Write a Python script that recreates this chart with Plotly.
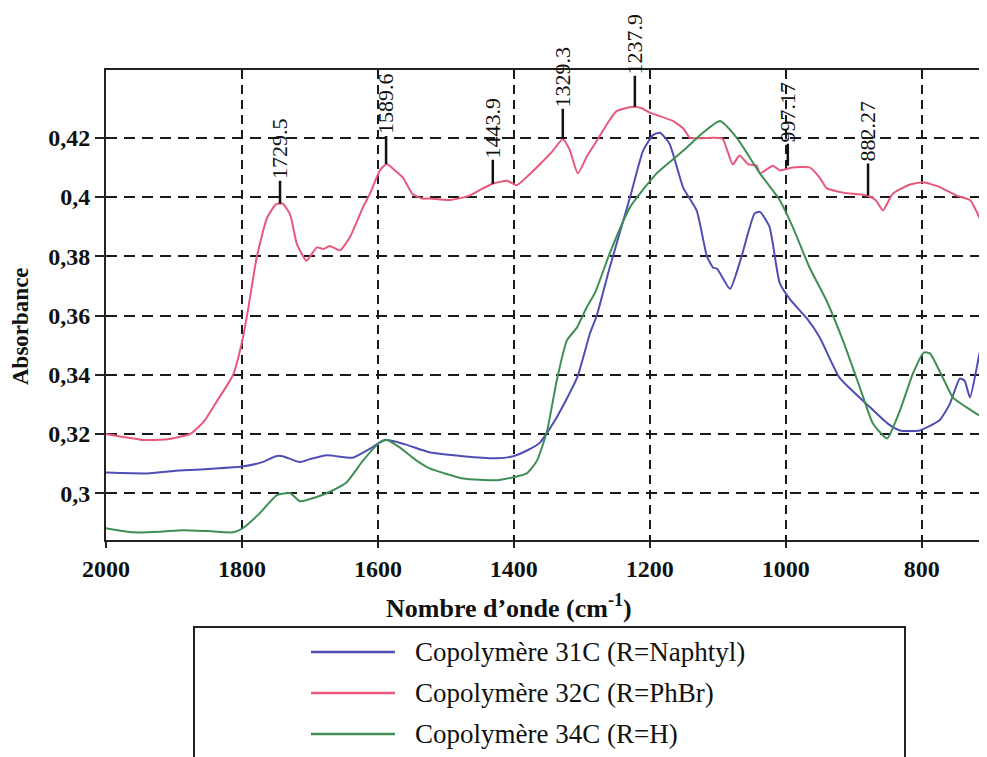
import plotly.graph_objects as go

# ---------------- data ----------------
wn_32C = [2000, 1975, 1946, 1910, 1876, 1855, 1837, 1813, 1800, 1791, 1778, 1763, 1750, 1740,
          1729, 1719, 1705, 1690, 1680, 1671, 1656, 1641, 1622, 1612, 1597, 1587, 1575, 1563,
          1549, 1535, 1524, 1494, 1465, 1445, 1431, 1410, 1396, 1380, 1362, 1345, 1328, 1318,
          1306, 1292, 1278, 1262, 1249, 1225, 1212, 1200, 1166, 1150, 1141, 1107, 1093, 1078,
          1068, 1055, 1043, 1038, 1019, 1009, 990, 965, 950, 940, 916, 881, 868, 857, 843, 820,
          798, 775, 749, 729, 715, 705]
abs_32C = [0.3200, 0.3190, 0.3180, 0.3182, 0.3200, 0.3245, 0.3310, 0.3400, 0.3510, 0.3620,
           0.3800, 0.3930, 0.3975, 0.3978, 0.3940, 0.3840, 0.3785, 0.3830, 0.3825, 0.3835,
           0.3820, 0.3865, 0.3965, 0.4010, 0.4090, 0.4112, 0.4090, 0.4065, 0.4010, 0.3995,
           0.3995, 0.3990, 0.4005, 0.4030, 0.4045, 0.4055, 0.4040, 0.4070, 0.4110, 0.4150,
           0.4195, 0.4160, 0.4080, 0.4140, 0.4190, 0.4250, 0.4290, 0.4305, 0.4300, 0.4285,
           0.4257, 0.4230, 0.4200, 0.4200, 0.4197, 0.4110, 0.4140, 0.4110, 0.4106, 0.4080,
           0.4106, 0.4090, 0.4100, 0.4100, 0.4065, 0.4030, 0.4015, 0.4005, 0.3990, 0.3955,
           0.4010, 0.4040, 0.4050, 0.4035, 0.4005, 0.3990, 0.3930, 0.3875]

wn_31C = [2000, 1935, 1900, 1862, 1800, 1770, 1750, 1740, 1715, 1700, 1675, 1637, 1612, 1590,
          1560, 1524, 1475, 1425, 1401, 1380, 1362, 1337, 1307, 1288, 1278, 1259, 1229, 1210,
          1195, 1185, 1171, 1151, 1131, 1116, 1107, 1101, 1082, 1065, 1046, 1038, 1024, 1009,
          994, 969, 950, 921, 876, 850, 832, 803, 774, 759, 744, 737, 729, 719, 710, 705]
abs_31C = [0.3070, 0.3067, 0.3075, 0.3080, 0.3090, 0.3105, 0.3125, 0.3125, 0.3105, 0.3115,
           0.3128, 0.3120, 0.3150, 0.3180, 0.3165, 0.3138, 0.3125, 0.3118, 0.3125, 0.3145,
           0.3170, 0.3256, 0.3390, 0.3540, 0.3600, 0.3762, 0.4000, 0.4156, 0.4210, 0.4217,
           0.4180, 0.4032, 0.3954, 0.3800, 0.3762, 0.3758, 0.3690, 0.3800, 0.3944, 0.3950,
           0.3900, 0.3710, 0.3655, 0.3590, 0.3526, 0.3390, 0.3290, 0.3235, 0.3212, 0.3212,
           0.3246, 0.3300, 0.3387, 0.3380, 0.3323, 0.3425, 0.3526, 0.3540]

wn_34C = [2000, 1960, 1920, 1887, 1850, 1813, 1800, 1774, 1749, 1729, 1715, 1690, 1666, 1646,
          1622, 1597, 1587, 1568, 1543, 1524, 1475, 1425, 1381, 1366, 1351, 1337, 1322, 1307,
          1293, 1280, 1259, 1229, 1190, 1151, 1122, 1097, 1072, 1038, 1009, 990, 965, 940, 916,
          891, 872, 851, 832, 813, 797, 788, 769, 754, 734, 715, 705]
abs_34C = [0.2882, 0.2868, 0.2870, 0.2875, 0.2872, 0.2868, 0.2880, 0.2932, 0.2993, 0.3000,
           0.2973, 0.2987, 0.3010, 0.3037, 0.3110, 0.3172, 0.3180, 0.3155, 0.3110, 0.3084,
           0.3050, 0.3044, 0.3067, 0.3110, 0.3212, 0.3380, 0.3516, 0.3560, 0.3627, 0.3680,
           0.3810, 0.3966, 0.4080, 0.4156, 0.4217, 0.4257, 0.4200, 0.4080, 0.3990, 0.3900,
           0.3762, 0.3650, 0.3516, 0.3357, 0.3236, 0.3185, 0.3280, 0.3404, 0.3475, 0.3472,
           0.3390, 0.3323, 0.3290, 0.3263, 0.3270]

series_names = ["Copolymère 31C (R=Naphtyl)", "Copolymère 32C (R=PhBr)", "Copolymère 34C (R=H)"]

peak_labels = ["1729.5", "1589.6", "1443.9", "1329.3", "1237.9", "997.17", "882.27"]
peak_wn = [1744, 1588, 1431, 1328, 1222, 997, 879]
peak_abs = [0.3977, 0.4112, 0.4045, 0.4197, 0.4305, 0.4106, 0.4005]

x_tickvals = [2000, 1800, 1600, 1400, 1200, 1000, 800]
x_ticktext = ["2000", "1800", "1600", "1400", "1200", "1000", "800"]
y_tickvals = [0.30, 0.32, 0.34, 0.36, 0.38, 0.40, 0.42]
y_ticktext = ["0,3", "0,32", "0,34", "0,36", "0,38", "0,4", "0,42"]

# ---------------- styling ----------------
colors = ["#4e4eb4", "#e8587a", "#3e8e56"]
label_offsets = [-55, -60, -56, -62, -63, -54, -64]
OFF = 8                       # default page body margin
W, H = 987 - OFF, 757 - OFF
ML, MR, MT, MB = 106 - OFF, 0, 70 - OFF, 217
PW, PH = W - ML - MR, H - MT - MB


def px(x):
    return (x - OFF - ML) / PW


def py(y):
    return (H - MB - (y - OFF)) / PH


SERIF = "Liberation Serif, Times New Roman, serif"

fig = go.Figure()
for wn, ab, name, col in [(wn_31C, abs_31C, series_names[0], colors[0]),
                          (wn_32C, abs_32C, series_names[1], colors[1]),
                          (wn_34C, abs_34C, series_names[2], colors[2])]:
    fig.add_trace(go.Scatter(x=wn, y=ab, mode="lines", name=name,
                             line=dict(color=col, width=2, shape="spline", smoothing=0.5),
                             showlegend=False))

annotations = []
# peak labels with vertical tick lines
for lab, xw, ya, off in zip(peak_labels, peak_wn, peak_abs, label_offsets):
    annotations.append(dict(x=xw, y=ya, xref="x", yref="y", text=lab, textangle=-90,
                            showarrow=True, arrowhead=0, arrowwidth=2.5, arrowcolor="#111",
                            ax=0, ay=off, standoff=0,
                            font=dict(family=SERIF, size=22, color="#111")))

# axis titles
annotations.append(dict(x=px(509), y=py(606), xref="paper", yref="paper",
                        text="Nombre d’onde (cm<sup>-1</sup>)", showarrow=False,
                        xanchor="center", yanchor="middle",
                        font=dict(family=SERIF, size=26, color="#111", weight="bold")))
annotations.append(dict(x=px(20), y=py(326), xref="paper", yref="paper",
                        text="Absorbance", showarrow=False, textangle=-90,
                        xanchor="center", yanchor="middle",
                        font=dict(family=SERIF, size=23, color="#111", weight="bold")))

shapes = []
# legend box
shapes.append(dict(type="rect", xref="paper", yref="paper",
                   x0=px(194), x1=px(905), y0=py(800), y1=py(627),
                   line=dict(color="#222", width=2), fillcolor="rgba(0,0,0,0)"))
legend_rows = [652, 693, 734]
for name, col, ry in zip(series_names, colors, legend_rows):
    shapes.append(dict(type="line", xref="paper", yref="paper",
                       x0=px(311), x1=px(395), y0=py(ry), y1=py(ry),
                       line=dict(color=col, width=2.5)))
    annotations.append(dict(x=px(413), y=py(ry), xref="paper", yref="paper",
                            text=name, showarrow=False, xanchor="left", yanchor="middle",
                            font=dict(family=SERIF, size=27, color="#111")))

fig.update_layout(
    width=W, height=H,
    margin=dict(l=ML, r=MR, t=MT, b=MB, pad=0),
    paper_bgcolor="white", plot_bgcolor="white",
    showlegend=False,
    annotations=annotations, shapes=shapes,
    xaxis=dict(range=[2000, 704], tickvals=x_tickvals, ticktext=x_ticktext,
               showgrid=True, gridcolor="#1a1a1a", gridwidth=2, griddash="9px,6px",
               showline=True, linecolor="#222", linewidth=2, mirror=True,
               ticks="outside", ticklen=6, tickwidth=2, tickcolor="#222",
               tickfont=dict(family=SERIF, size=24, color="#111", weight="bold"),
               zeroline=False),
    yaxis=dict(range=[0.2842, 0.4429], tickvals=y_tickvals, ticktext=y_ticktext,
               showgrid=True, gridcolor="#1a1a1a", gridwidth=2, griddash="11px,7px",
               showline=True, linecolor="#222", linewidth=2, mirror=False,
               ticks="outside", ticklen=9, tickwidth=2, tickcolor="#222",
               tickfont=dict(family=SERIF, size=24, color="#111", weight="bold"),
               zeroline=False),
)

fig.write_html("out.html")
